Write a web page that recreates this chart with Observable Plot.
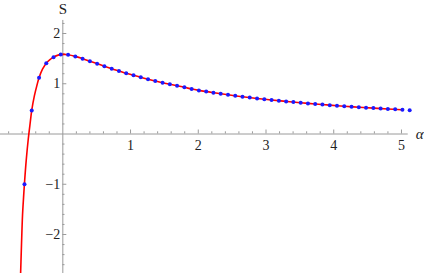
<!DOCTYPE html>
<html>
<head>
<meta charset="utf-8">
<script src="https://cdn.jsdelivr.net/npm/d3@7"></script>
<script src="https://cdn.jsdelivr.net/npm/@observablehq/plot@0.6"></script>
<style>
  html, body { margin: 0; padding: 0; background: #fff; }
</style>
</head>
<body>
<div id="chart"></div>
<script>
// Sampled points (blue dots)
const dotAlpha = [-0.566,-0.459,-0.351,-0.244,-0.137,-0.030,0.078,0.185,0.292,0.400,0.507,0.614,0.722,0.829,0.936,1.044,1.151,1.258,1.365,1.473,1.580,1.687,1.795,1.902,2.009,2.117,2.224,2.331,2.439,2.546,2.653,2.760,2.868,2.975,3.082,3.190,3.297,3.404,3.512,3.619,3.726,3.833,3.941,4.048,4.155,4.263,4.370,4.477,4.585,4.692,4.799,4.907,5.014,5.121];
const dotS = [-1.00,0.47,1.12,1.41,1.53,1.58,1.578,1.545,1.50,1.45,1.40,1.35,1.30,1.255,1.21,1.17,1.13,1.09,1.055,1.02,0.99,0.96,0.93,0.895,0.868,0.845,0.822,0.80,0.78,0.76,0.742,0.725,0.708,0.693,0.678,0.663,0.649,0.635,0.622,0.609,0.597,0.585,0.574,0.563,0.553,0.543,0.534,0.525,0.516,0.507,0.499,0.491,0.483,0.475];

// Analytic curve (red line)
const curveAlpha = [-0.628,-0.61,-0.595,-0.58,-0.566,-0.54,-0.51,-0.48,-0.459,-0.42,-0.38,-0.351,-0.30,-0.244,-0.19,-0.137,-0.08,-0.03,0.02,0.078,0.185,0.292,0.4,0.507,0.614,0.722,0.829,0.936,1.044,1.151,1.258,1.365,1.473,1.58,1.687,1.795,1.902,2.009,2.224,2.439,2.653,2.868,3.082,3.297,3.512,3.726,3.941,4.155,4.37,4.585,4.799,5.0];
const curveS = [-3.0,-2.2,-1.62,-1.27,-0.98,-0.52,-0.1,0.24,0.47,0.76,0.98,1.12,1.29,1.41,1.48,1.53,1.565,1.58,1.585,1.578,1.545,1.50,1.45,1.40,1.35,1.30,1.255,1.21,1.17,1.13,1.09,1.055,1.02,0.99,0.96,0.93,0.895,0.868,0.822,0.78,0.742,0.708,0.678,0.649,0.622,0.597,0.574,0.553,0.534,0.516,0.499,0.484];

// Ticks
const xMajor = [1, 2, 3, 4, 5];
const xMinor = [-0.8,-0.6,-0.4,-0.2,0.2,0.4,0.6,0.8,1.2,1.4,1.6,1.8,2.2,2.4,2.6,2.8,3.2,3.4,3.6,3.8,4.2,4.4,4.6,4.8];
const yMajor = [-2, -1, 1, 2];
const yMinor = [-2.6,-2.4,-2.2,-1.8,-1.6,-1.4,-1.2,-0.8,-0.6,-0.4,-0.2,0.2,0.4,0.6,0.8,1.2,1.4,1.6,1.8,2.2];
const xLabel = "α";
const yLabel = "S";

const dots = dotAlpha.map((a, i) => ({a, s: dotS[i]}));
const curve = curveAlpha.map((a, i) => ({a, s: curveS[i]}));

const W = 424, H = 273;
const xDom = [-0.92, 5.34];
const yDom = [-2.776, 2.657];
const pxX = W / (xDom[1] - xDom[0]);
const pxY = H / (yDom[1] - yDom[0]);
const axisColor = "#9a9a9a";
const serif = "'Liberation Serif', 'DejaVu Serif', serif";
const fmt = d => d < 0 ? "\u2212" + Math.abs(d) : String(d);

const chart = Plot.plot({
  width: W,
  height: H,
  margin: 0,
  x: {domain: xDom, axis: null},
  y: {domain: yDom, axis: null},
  marks: [
    // axes lines
    Plot.ruleY([0], {x1: xDom[0], x2: 5.10, stroke: axisColor, strokeWidth: 1}),
    Plot.ruleX([0], {y1: yDom[0], y2: 2.26, stroke: axisColor, strokeWidth: 1}),
    // x ticks
    Plot.ruleX(xMajor, {x: d => d, y1: 0, y2: 4 / pxY, stroke: axisColor}),
    Plot.ruleX(xMinor, {x: d => d, y1: 0, y2: 2.2 / pxY, stroke: axisColor}),
    // y ticks
    Plot.ruleY(yMajor, {y: d => d, x1: 0, x2: 4 / pxX, stroke: axisColor}),
    Plot.ruleY(yMinor, {y: d => d, x1: 0, x2: 2.2 / pxX, stroke: axisColor}),
    // tick labels
    Plot.text(xMajor, {x: d => d, y: 0, text: fmt, dy: 11.5, fontSize: 14, fontFamily: serif, fill: "#222", lineAnchor: "middle"}),
    Plot.text(yMajor, {x: 0, y: d => d, text: fmt, dx: -2.5, textAnchor: "end", fontSize: 14, fontFamily: serif, fill: "#222", lineAnchor: "middle"}),
    // axis labels
    Plot.text([yLabel], {x: 0, frameAnchor: "top", text: d => d, dy: 3, lineAnchor: "top", fontSize: 15, fontFamily: serif, fill: "#222"}),
    Plot.text([xLabel], {y: 0, frameAnchor: "right", text: d => d, dx: -1, textAnchor: "end", lineAnchor: "middle", fontSize: 15, fontStyle: "italic", fontFamily: serif, fill: "#222"}),
    // data
    Plot.line(curve, {x: "a", y: "s", stroke: "#ff0000", strokeWidth: 1.6, curve: "catmull-rom", clip: true}),
    Plot.dot(dots, {x: "a", y: "s", r: 2, fill: "#1a1aff", stroke: "none"})
  ]
});
document.getElementById("chart").appendChild(chart);
</script>
</body>
</html>
